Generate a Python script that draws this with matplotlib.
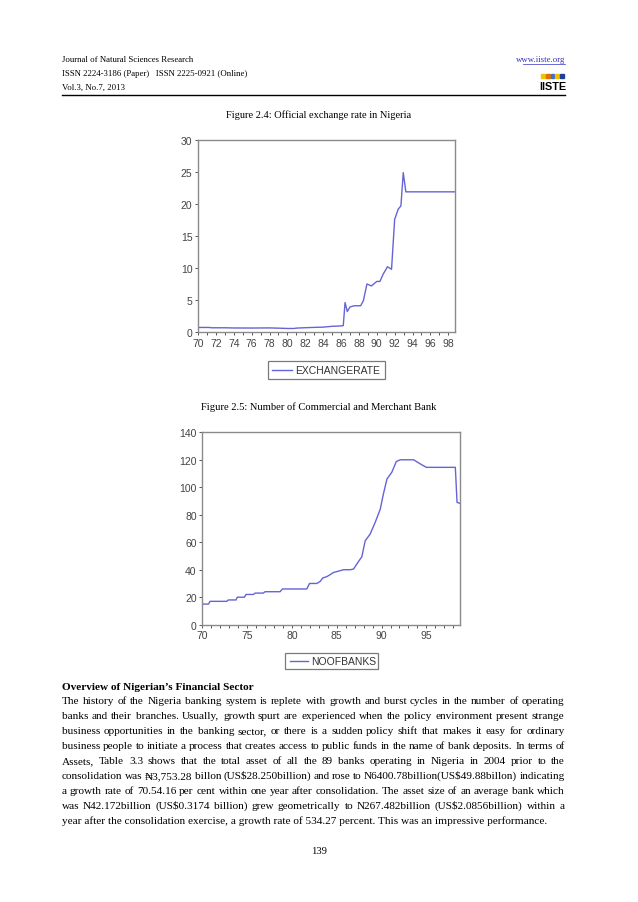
import matplotlib
matplotlib.use('Agg')
import matplotlib.pyplot as plt
from matplotlib.lines import Line2D
from matplotlib.patches import Rectangle

# ---- data ----
ex_year = [70, 71.25, 71.5, 73, 74, 76, 78, 79, 80, 80.75, 81, 82, 83, 84, 85, 86,
           86.25, 86.45, 86.7, 87.0, 87.45, 88.2, 88.5, 88.9, 89.4, 90.0, 90.35,
           90.7, 91.2, 91.65, 92.0, 92.4, 92.7, 92.96, 93.25, 98.75]
ex_rate = [0.71, 0.71, 0.66, 0.66, 0.63, 0.62, 0.64, 0.60, 0.55, 0.55, 0.61, 0.67,
           0.72, 0.76, 0.89, 0.95, 1.0, 4.6, 3.2, 3.9, 4.1, 4.1, 4.9, 7.5, 7.2,
           7.9, 7.9, 9.0, 10.2, 9.8, 17.6, 19.2, 19.7, 24.9, 21.9, 21.9]

bk_year = [70, 70.7, 70.86, 72.72, 72.9, 73.76, 73.9, 74.7, 74.88, 75.7, 75.9, 76.8,
           77.0, 78.68, 78.94, 81.66, 81.96, 82.77, 83.15, 83.45, 83.9, 84.26, 84.64,
           85.38, 85.75, 86.5, 86.87, 87.43, 87.8, 88.17, 88.73, 89.29, 89.85, 90.2,
           90.6, 91.15, 91.64, 92.09, 93.58, 94.32, 94.99, 98.23, 98.42, 98.75]
bk_num = [15, 15, 17, 17, 18, 18, 20, 20, 22, 22, 23, 23, 24, 24, 26, 26, 30, 30,
          31.5, 34, 35, 36.4, 38, 39.3, 40, 40, 40.5, 46, 49.5, 61, 66, 74.5, 84,
          95, 106, 111, 118.7, 120, 120, 117, 114.5, 114.5, 89, 88.3]

ex_ticks = list(range(70, 99, 2))
bk_ticks = list(range(70, 96, 5))

header_left = ["Journal of Natural Sciences Research",
               "ISSN 2224-3186 (Paper)   ISSN 2225-0921 (Online)",
               "Vol.3, No.7, 2013"]
heading = "Overview of Nigerian\u2019s Financial Sector"
body = [
    "The history of the Nigeria banking system is replete with growth and burst cycles in the number of operating",
    "banks and their branches. Usually, growth spurt are experienced when the policy environment present strange",
    "business opportunities in the banking sector, or there is a sudden policy shift that makes it easy for ordinary",
    "business people to initiate a process that creates access to public funds in the name of bank deposits.  In terms of",
    "Assets, Table 3.3 shows that the total asset of all the 89 banks operating in Nigeria in 2004 prior to the",
    "consolidation was \u20a63,753.28 billon (US$28.250billion) and rose to N6400.78billion(US$49.88billon) indicating",
    "a growth rate of 70.54.16 per cent within one year after consolidation. The asset size of an average bank which",
    "was N42.172billion (US$0.3174 billion) grew geometrically to N267.482billion (US$2.0856billion) within a",
    "year after the consolidation exercise, a growth rate of 534.27 percent. This was an impressive performance.",
]

W, H = 638, 903
SERIF = ['Liberation Serif', 'DejaVu Serif']
SANS = ['Liberation Sans', 'DejaVu Sans']
LINE = '#6464d6'
GRID = '#8a8a8a'

fig = plt.figure(figsize=(W / 100, H / 100), dpi=100)


def fy(y):
    return 1 - y / H


def fx(x):
    return x / W


# header (baselines)
for i, s in enumerate(header_left):
    fig.text(fx(62), fy(62 + i * 14), s, family=SERIF, fontsize=6.3, va='baseline')
fig.text(fx(565), fy(62), "www.iiste.org", family=SERIF, fontsize=6.3,
         va='baseline', ha='right', color='#3030c0')
fig.add_artist(Line2D([fx(523), fx(565)], [fy(64.5), fy(64.5)], color='#3030c0', lw=0.5))
for j, c in enumerate(['#f2c200', '#e07000', '#3a6fd8', '#f2c200', '#1f3f99']):
    fig.add_artist(Rectangle((fx(541 + j * 4.8), fy(79)), 3.8 / W, 4.5 / H,
                             color=c, transform=fig.transFigure))
fig.text(fx(553), fy(90), "IISTE", family=SANS, fontsize=7.8, weight='bold',
         ha='center', va='baseline')
fig.add_artist(Line2D([fx(62), fx(565)], [fy(96), fy(96)], color='black', lw=1.0))

fig.text(0.5, fy(115), "Figure 2.4: Official exchange rate in Nigeria",
         family=SERIF, fontsize=7.5, ha='center', va='center')
fig.text(0.5, fy(407), "Figure 2.5: Number of Commercial and Merchant Bank",
         family=SERIF, fontsize=7.6, ha='center', va='center')


def style_axes(ax):
    for sp in ax.spines.values():
        sp.set_color(GRID)
        sp.set_linewidth(1.0)
    ax.tick_params(colors='#555555', labelcolor='#444444', labelsize=7.5,
                   length=2.5, width=0.7, pad=1.5)
    ax.tick_params(axis='x', which='minor', colors='#555555', length=2.5, width=0.7)
    for lab in ax.get_xticklabels() + ax.get_yticklabels():
        lab.set_family(SANS)


# chart 1: exchange rate
ax1 = fig.add_axes([198 / W, fy(333), 257 / W, 192 / H])
ax1.plot(ex_year, ex_rate, color=LINE, lw=1.0)
ax1.set_xlim(70, 98.75)
ax1.set_ylim(0, 30)
ax1.set_xticks(ex_ticks)
ax1.set_xticks(list(range(70, 99)), minor=True)
ax1.set_yticks(range(0, 31, 5))
style_axes(ax1)

# chart 2: number of banks
ax2 = fig.add_axes([202.3 / W, fy(625.7), 257.7 / W, 192.4 / H])
ax2.plot(bk_year, bk_num, color=LINE, lw=1.0)
ax2.set_xlim(70, 98.75)
ax2.set_ylim(0, 140)
ax2.set_xticks(bk_ticks)
ax2.set_xticks(list(range(70, 99)), minor=True)
ax2.set_yticks(range(0, 141, 20))
style_axes(ax2)


def legend_box(x0, y0, x1, y1, lx0, lx1, tx, label):
    fig.add_artist(Rectangle((fx(x0), fy(y1)), (x1 - x0) / W, (y1 - y0) / H,
                             fill=False, edgecolor='#7a7a7a', lw=0.9,
                             transform=fig.transFigure))
    ym = (y0 + y1) / 2
    fig.add_artist(Line2D([fx(lx0), fx(lx1)], [fy(ym), fy(ym)], color=LINE, lw=1.0))
    fig.text(fx(tx), fy(ym), label, family=SANS, fontsize=7.5, color='#333333',
             va='center')


legend_box(268, 362, 385, 380, 272, 292, 295, "EXCHANGERATE")
legend_box(285, 654, 378, 670, 290, 308, 311, "NOOFBANKS")

# body text, justified like the page (y values are whole-pixel baselines)
renderer = fig.canvas.get_renderer()
X0, X1 = 62, 565
FS = 8.1
fig.text(fx(X0), fy(690), heading, family=SERIF, fontsize=FS, weight='bold',
         va='baseline')


def justify(line, y):
    words = line.split()
    arts = [fig.text(0, fy(y), w, family=SERIF, fontsize=FS, va='baseline',
                     parse_math=False) for w in words]
    widths = [a.get_window_extent(renderer).width for a in arts]
    gap = (X1 - X0 - sum(widths)) / (len(words) - 1)
    x = X0
    for a, w in zip(arts, widths):
        a.set_x(fx(round(x)))
        x += w + gap


for k, line in enumerate(body):
    y = 704 + k * 15
    if k == len(body) - 1:
        fig.text(fx(X0), fy(y), line, family=SERIF, fontsize=FS, va='baseline',
                 parse_math=False)
    else:
        justify(line, y)

fig.text(0.5, fy(852), "139", family=SERIF, fontsize=7.6, ha='center', va='center')

fig.savefig('out.png', dpi=100)
